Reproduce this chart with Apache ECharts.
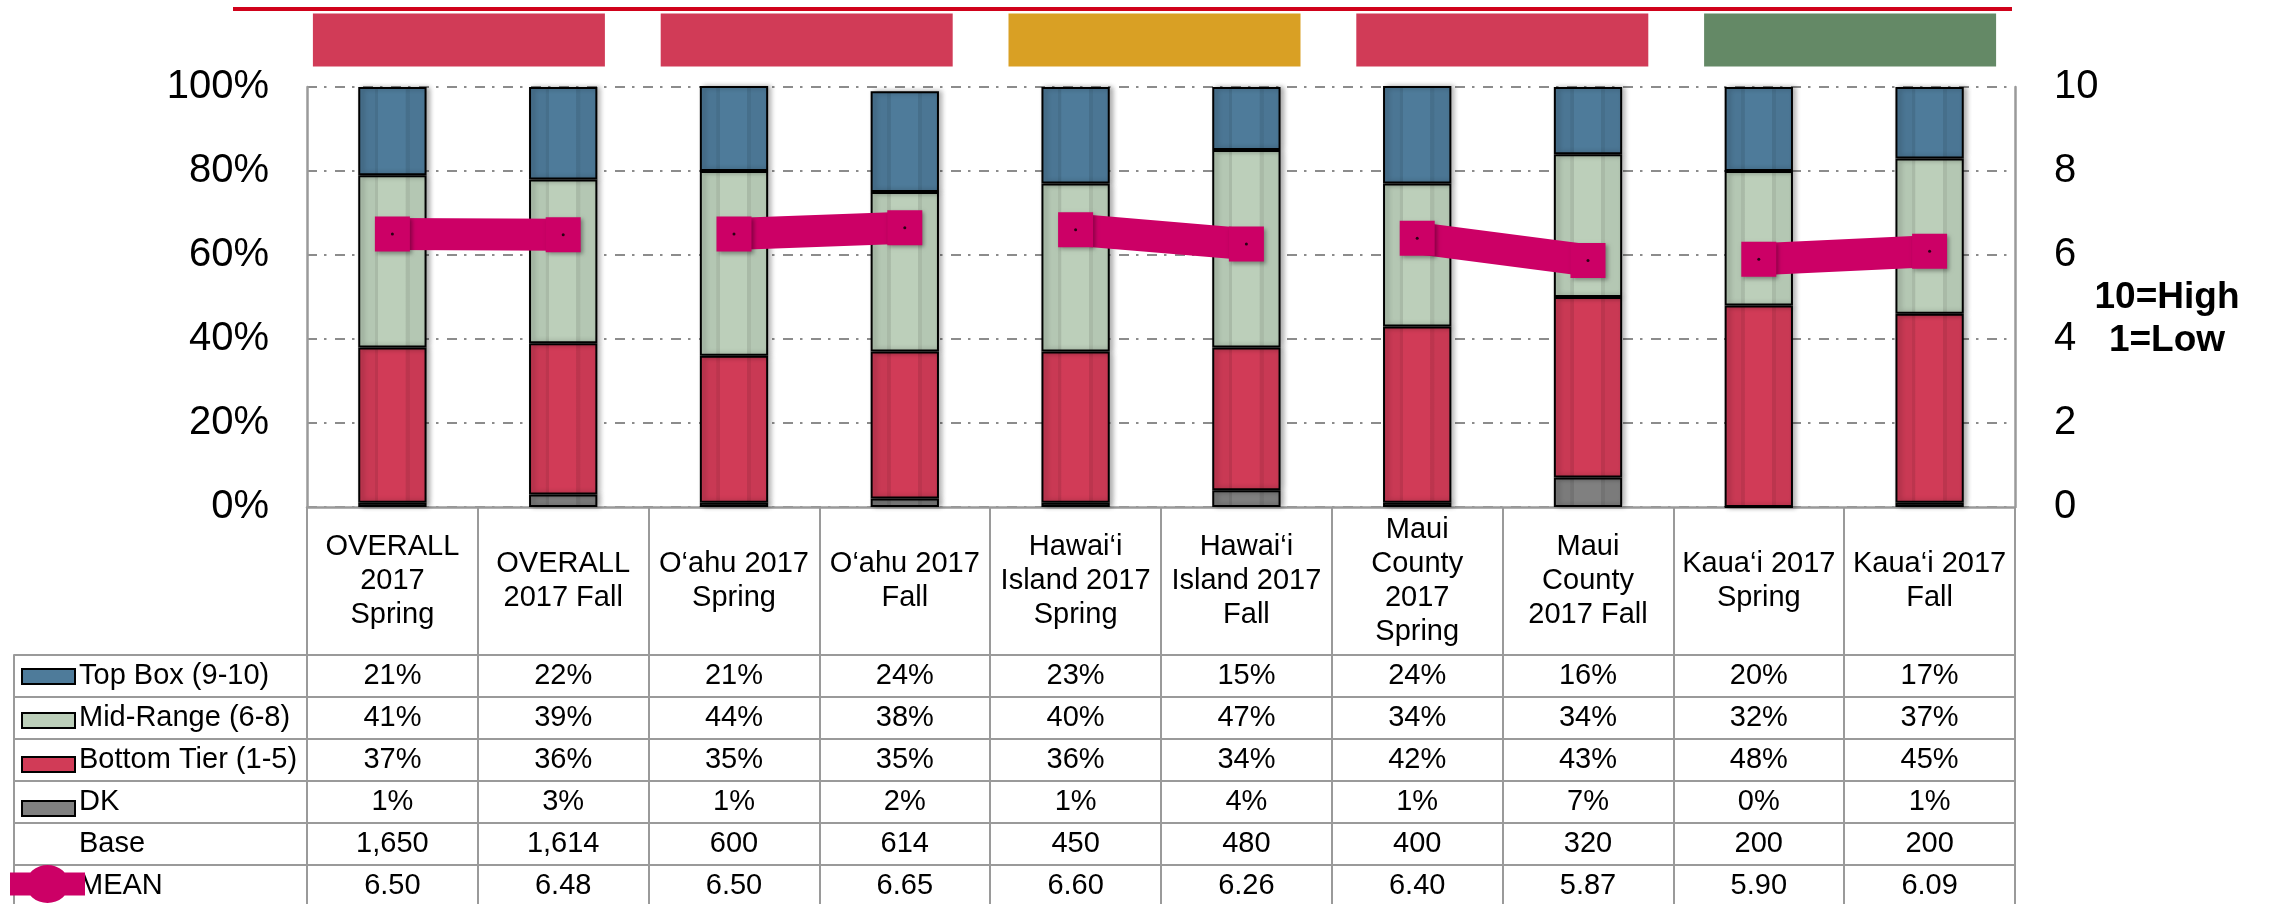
<!DOCTYPE html>
<html>
<head>
<meta charset="utf-8">
<script src="https://cdn.jsdelivr.net/npm/echarts@6/dist/echarts.min.js"></script>
<style>
html,body{margin:0;padding:0;background:#fff;}
#c{width:2269px;height:904px;}
</style>
</head>
<body>
<div id="c"></div>
<script>
// ---------------- DATA ----------------
const categories = [
  'OVERALL\n2017\nSpring', 'OVERALL\n2017 Fall',
  'O‘ahu 2017\nSpring', 'O‘ahu 2017\nFall',
  'Hawai‘i\nIsland 2017\nSpring', 'Hawai‘i\nIsland 2017\nFall',
  'Maui\nCounty\n2017\nSpring', 'Maui\nCounty\n2017 Fall',
  'Kaua‘i 2017\nSpring', 'Kaua‘i 2017\nFall'
];
const topBox     = [21, 22, 21, 24, 23, 15, 24, 16, 20, 17];
const midRange   = [41, 39, 44, 38, 40, 47, 34, 34, 32, 37];
const bottomTier = [37, 36, 35, 35, 36, 34, 42, 43, 48, 45];
const dk         = [1, 3, 1, 2, 1, 4, 1, 7, 0, 1];
const base       = [1650, 1614, 600, 614, 450, 480, 400, 320, 200, 200];
const mean       = [6.50, 6.48, 6.50, 6.65, 6.60, 6.26, 6.40, 5.87, 5.90, 6.09];
const meanPairs  = [[0, 1], [2, 3], [4, 5], [6, 7], [8, 9]];
const groups     = ['OVERALL', 'O‘ahu', 'Hawai‘i Island', 'Maui County', 'Kaua‘i'];
const pctTicks   = [0, 20, 40, 60, 80, 100];
const meanTicks  = [0, 2, 4, 6, 8, 10];
const scaleNote  = '10=High\n1=Low';

// ---------------- STYLE ----------------
const FONT = 'Liberation Sans, Arial, Helvetica, sans-serif';
const COLORS = {
  top: '#4E7B9A', mid: '#BCCFBA', bottom: '#D13B57', dk: '#808080',
  mean: '#CC0066', grid: '#8c8c8c', line: '#9a9a9a'
};
const groupColors = ['#D13B57', '#D13B57', '#D9A024', '#D13B57', '#648966'];
const GRID_LEFT = 307, GRID_RIGHT = 254, GRID_TOP = 87, GRID_H = 420;
const HEADER_H = 148, ROW_H = 42;
const ROW_TEXT_X = 79;

function shade(hex, f) {
  const n = parseInt(hex.slice(1), 16);
  const r = Math.round(((n >> 16) & 255) * f), g = Math.round(((n >> 8) & 255) * f), b = Math.round((n & 255) * f);
  return 'rgb(' + r + ',' + g + ',' + b + ')';
}
function barFill(hex) {
  const d = shade(hex, 0.9), m = shade(hex, 0.96);
  return new echarts.graphic.LinearGradient(0, 0, 1, 0, [
    {offset: 0, color: m}, {offset: 0.24, color: m},
    {offset: 0.245, color: d}, {offset: 0.29, color: d},
    {offset: 0.295, color: hex}, {offset: 0.69, color: hex},
    {offset: 0.695, color: d}, {offset: 0.75, color: d},
    {offset: 0.755, color: m}, {offset: 1, color: m}
  ]);
}

const rowDefs = [
  {name: 'Top Box (9-10)',    text: topBox.map(v => v + '%'),     color: COLORS.top},
  {name: 'Mid-Range (6-8)',   text: midRange.map(v => v + '%'),   color: COLORS.mid},
  {name: 'Bottom Tier (1-5)', text: bottomTier.map(v => v + '%'), color: COLORS.bottom},
  {name: 'DK',                text: dk.map(v => v + '%'),         color: COLORS.dk},
  {name: 'Base',              text: base.map(v => v.toLocaleString('en-US'))},
  {name: 'MEAN',              text: mean.map(v => v.toFixed(2))}
];

const textBase = {fontSize: 29, color: '#000', fontFamily: FONT};

// ---------------- AXES ----------------
const xAxes = [];
xAxes.push({
  type: 'category', gridIndex: 0, data: categories, position: 'bottom', offset: 0,
  axisLine: {onZero: false, lineStyle: {color: COLORS.line, width: 2.5}},
  axisTick: {show: true, length: HEADER_H, interval: 0, alignWithLabel: false, lineStyle: {color: COLORS.line, width: 2}},
  axisLabel: Object.assign({interval: 0, margin: HEADER_H / 2, verticalAlign: 'middle', lineHeight: 34}, textBase),
  splitLine: {show: false}
});
rowDefs.forEach((r, k) => {
  xAxes.push({
    type: 'category', gridIndex: 0, data: categories, position: 'bottom', offset: HEADER_H + k * ROW_H,
    axisLine: {onZero: false, lineStyle: {color: COLORS.line, width: 2}},
    axisTick: {show: true, length: ROW_H, interval: 0, alignWithLabel: false, lineStyle: {color: COLORS.line, width: 2}},
    axisLabel: Object.assign({interval: 0, margin: ROW_H / 2, verticalAlign: 'middle', formatter: (v, i) => r.text[i]}, textBase),
    splitLine: {show: false},
    name: r.name, nameLocation: 'start', nameGap: GRID_LEFT - ROW_TEXT_X,
    nameTextStyle: Object.assign({align: 'left', verticalAlign: 'top', lineHeight: ROW_H}, textBase)
  });
});
rowDefs.forEach((r, k) => {
  xAxes.push({
    type: 'category', gridIndex: 1, data: [''], position: 'bottom', offset: HEADER_H + k * ROW_H,
    axisLine: {onZero: false, lineStyle: {color: COLORS.line, width: 2}},
    axisTick: {show: true, length: ROW_H, interval: 0, alignWithLabel: false, lineStyle: {color: COLORS.line, width: 2}},
    axisLabel: {show: false}, splitLine: {show: false}
  });
});
const HEADER_X = xAxes.length;
xAxes.push({type: 'category', gridIndex: 2, data: groups, show: false});

const yAxes = [
  {
    type: 'value', gridIndex: 0, position: 'left',
    min: pctTicks[0], max: pctTicks[pctTicks.length - 1], interval: pctTicks[1] - pctTicks[0],
    axisLine: {show: true, lineStyle: {color: COLORS.line, width: 2.5}},
    axisTick: {show: false},
    axisLabel: {formatter: '{value}%', fontSize: 40, margin: 38, color: '#000', fontFamily: FONT},
    splitLine: {show: true, lineStyle: {color: COLORS.grid, width: 2, type: [10, 7, 2.5, 8.5]}}
  },
  {
    type: 'value', gridIndex: 0, position: 'right',
    min: meanTicks[0], max: meanTicks[meanTicks.length - 1], interval: meanTicks[1] - meanTicks[0],
    axisLine: {show: true, lineStyle: {color: COLORS.line, width: 2.5}},
    axisTick: {show: false},
    axisLabel: {fontSize: 40, margin: 39, color: '#000', fontFamily: FONT},
    splitLine: {show: false}
  },
  {type: 'value', gridIndex: 1, show: false, min: 0, max: 1},
  {type: 'value', gridIndex: 2, show: false, min: 0, max: 1}
];

// ---------------- SERIES ----------------
const barDefs = [
  {name: 'DK', data: dk, color: COLORS.dk},
  {name: 'Bottom Tier (1-5)', data: bottomTier, color: COLORS.bottom},
  {name: 'Mid-Range (6-8)', data: midRange, color: COLORS.mid},
  {name: 'Top Box (9-10)', data: topBox, color: COLORS.top}
];
const series = barDefs.map(s => ({
  type: 'bar', name: s.name, xAxisIndex: 0, yAxisIndex: 0, stack: 'pct', barWidth: '40%',
  data: s.data, z: 2,
  itemStyle: {color: barFill(s.color), borderColor: '#000', borderWidth: 2,
    shadowBlur: 5, shadowColor: 'rgba(0,0,0,0.3)', shadowOffsetX: 3}
}));
meanPairs.forEach(([a, b]) => {
  series.push({
    type: 'line', name: 'MEAN', xAxisIndex: 0, yAxisIndex: 1, z: 5,
    data: mean.map((v, i) => (i === a || i === b) ? v : '-'),
    symbol: 'rect', symbolSize: [35, 35], showSymbol: true,
    lineStyle: {color: COLORS.mean, width: 32, cap: 'butt'},
    itemStyle: {color: COLORS.mean, shadowBlur: 4, shadowColor: 'rgba(0,0,0,0.35)', shadowOffsetX: 2, shadowOffsetY: 2}
  });
});
series.push({
  type: 'scatter', name: 'meanDot', xAxisIndex: 0, yAxisIndex: 1, z: 7,
  data: mean, symbol: 'circle', symbolSize: 3, itemStyle: {color: '#000'}
});
series.push({
  type: 'bar', name: 'groups', xAxisIndex: HEADER_X, yAxisIndex: 3, barWidth: 292,
  data: groups.map((g, i) => ({value: 1, name: g, itemStyle: {color: groupColors[i]}}))
});

const meanIcon = 'path://M0,7.5H75V30.5H0Z M16,19 A21.5,19 0 1,1 59,19 A21.5,19 0 1,1 16,19 Z';

const option = {
  animation: false,
  backgroundColor: '#fff',
  textStyle: {fontFamily: FONT},
  grid: [
    {left: GRID_LEFT, right: GRID_RIGHT, top: GRID_TOP, height: GRID_H, containLabel: false, outerBoundsMode: 'none'},
    {left: 14, width: GRID_LEFT - 14, top: GRID_TOP, height: GRID_H, containLabel: false, outerBoundsMode: 'none'},
    {left: 285, right: 245, top: 13.5, height: 53, containLabel: false, outerBoundsMode: 'none'}
  ],
  xAxis: xAxes,
  yAxis: yAxes,
  legend: [
    {
      orient: 'vertical', left: 21, top: 668, padding: 0, itemWidth: 53, itemHeight: 15, itemGap: 27,
      selectedMode: false, formatter: () => '', textStyle: {fontSize: 10},
      itemStyle: {borderColor: '#000', borderWidth: 2},
      data: rowDefs.slice(0, 4).map(r => ({name: r.name, icon: 'rect', itemStyle: {color: r.color}}))
    },
    {
      orient: 'vertical', left: 10, top: 865, padding: 0, itemWidth: 75, itemHeight: 38,
      selectedMode: false, formatter: () => '', textStyle: {fontSize: 10},
      data: [{name: 'MEAN', icon: meanIcon, itemStyle: {color: COLORS.mean, borderWidth: 0}}]
    }
  ],
  graphic: [
    {type: 'line', shape: {x1: 233, y1: 9, x2: 2012, y2: 9}, style: {stroke: '#D0021B', lineWidth: 4}, silent: true},
    {type: 'text', x: 2167, y: 276, silent: true,
      style: {text: scaleNote, align: 'center', verticalAlign: 'top', fontSize: 37, fontWeight: 'bold',
        lineHeight: 43, fontFamily: FONT, fill: '#000'}}
  ],
  series: series
};

const chart = echarts.init(document.getElementById('c'), null, {renderer: 'canvas', width: 2269, height: 904});
chart.setOption(option);
</script>
</body>
</html>
